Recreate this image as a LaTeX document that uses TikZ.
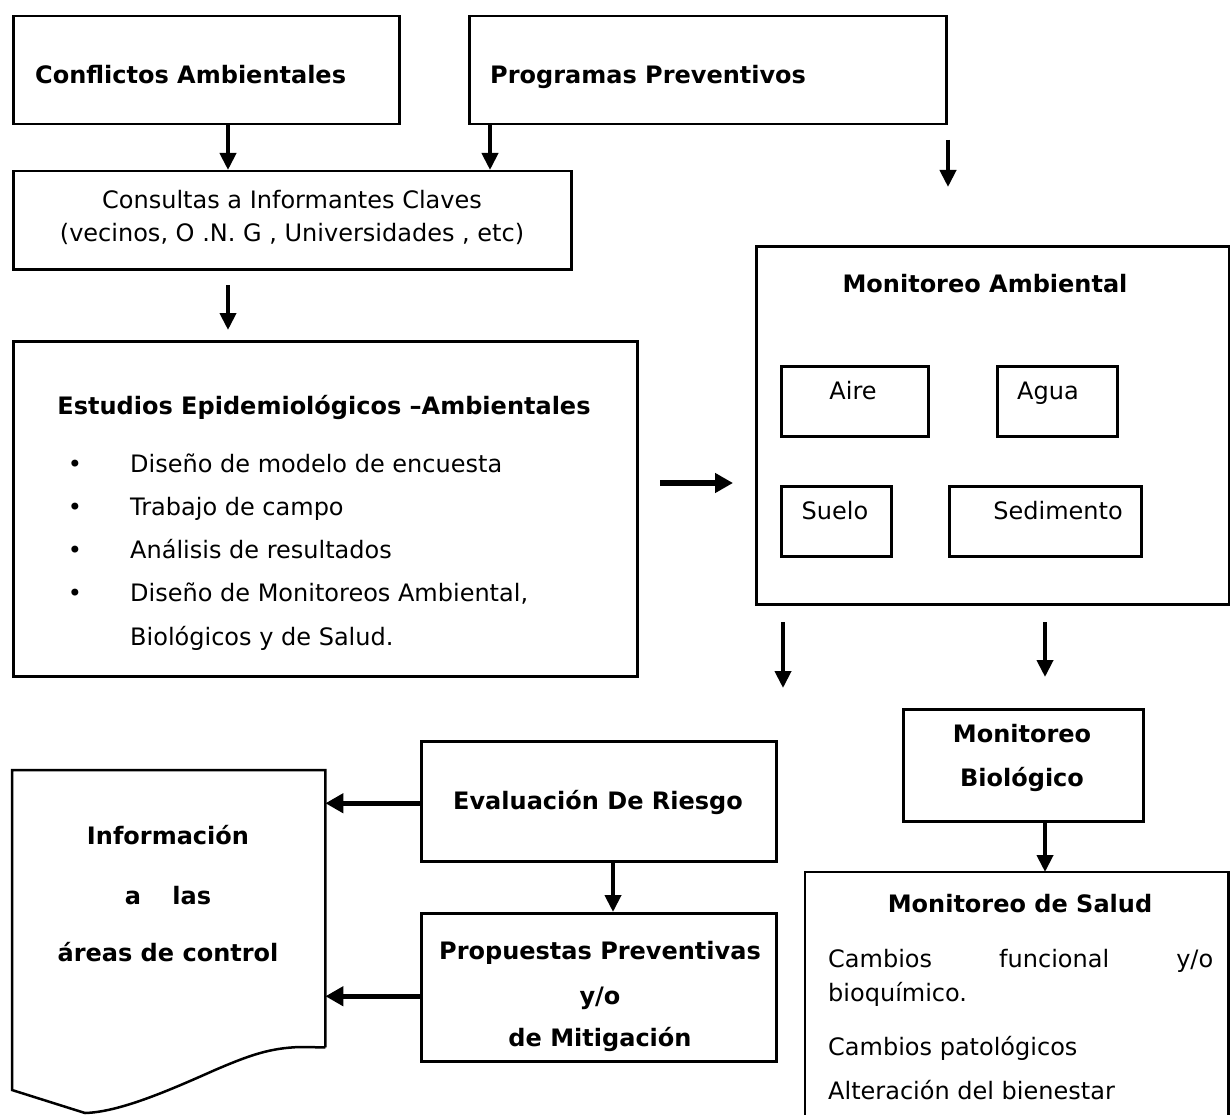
\documentclass[tikz,border=0pt]{standalone}
\usepackage{fontspec}
\setmainfont{DejaVu Sans}
\usetikzlibrary{arrows.meta}
\begin{document}
\begin{tikzpicture}[x=1pt,y=-1pt,
  font=\fontsize{24}{28}\selectfont,
  box/.style={draw, line width=2.5pt, inner sep=0pt, anchor=north west},
  frame/.style={inner sep=0pt, anchor=north west},
  outline/.style={line width=2.5pt},
  arr/.style={line width=4pt, -{Triangle[length=17pt,width=16pt]}},
  harr/.style={line width=5.5pt, -{Triangle[length=18pt,width=19pt]}},
  txt/.style={inner sep=0pt, anchor=base},
  txtl/.style={inner sep=0pt, anchor=base west}]
\useasboundingbox (0,0) rectangle (1230,1115);
\clip (0,0) rectangle (1230,1115);
% top boxes
\node[box, minimum width=386pt, minimum height=108pt] (conf) at (12,15) {};
\node[txtl] (conft) at (35,84) {\bfseries Conflictos Ambientales};
\node[box, minimum width=477pt, minimum height=108pt] (prog) at (468,15) {};
\node[txtl] (progt) at (490,84) {\bfseries Programas Preventivos};
% consultas
\node[box, minimum width=558pt, minimum height=98pt] (cons) at (12,170) {};
\node[txt] (cons1) at (292,209) {Consultas a Informantes Claves};
\node[txt] (cons2) at (292,241) {(vecinos, O .N. G , Universidades , etc)};
% estudios
\node[box, minimum width=624pt, minimum height=335pt] (est) at (12,340) {};
\node[txt] (estt) at (324,414) {\bfseries Estudios Epidemiológicos –Ambientales};
\node[txt] (bu1) at (75,472) {•};
\node[txt] (bu2) at (75,515) {•};
\node[txt] (bu3) at (75,558) {•};
\node[txt] (bu4) at (75,601) {•};
\node[txtl] (li1) at (130,472) {Diseño de modelo de encuesta};
\node[txtl] (li2) at (130,515) {Trabajo de campo};
\node[txtl] (li3) at (130,558) {Análisis de resultados};
\node[txtl] (li4) at (130,601) {Diseño de Monitoreos Ambiental,};
\node[txtl] (li5) at (130,645) {Biológicos y de Salud.};
% monitoreo ambiental
\node[box, minimum width=473pt, minimum height=358pt] (amb) at (755,245) {};
\node[txt] (ambt) at (985,292) {\bfseries Monitoreo Ambiental};
\node[box, minimum width=147pt, minimum height=70pt] (aire) at (780,365) {};
\node[txt] (airet) at (853,399) {Aire};
\node[box, minimum width=120pt, minimum height=70pt] (agua) at (996,365) {};
\node[txt] (aguat) at (1048,399) {Agua};
\node[box, minimum width=110pt, minimum height=70pt] (suelo) at (780,485) {};
\node[txt] (suelot) at (835,519) {Suelo};
\node[box, minimum width=192pt, minimum height=70pt] (sedi) at (948,485) {};
\node[txt] (sedit) at (1058,519) {Sedimento};
% monitoreo biologico
\node[box, minimum width=240pt, minimum height=112pt] (monbio) at (902,708) {};
\node[txt] (mb1) at (1022,742) {\bfseries Monitoreo};
\node[txt] (mb2) at (1022,786) {\bfseries Biológico};
% monitoreo de salud
\node[frame, minimum width=423pt, minimum height=260pt] (salud) at (805,872) {};
\draw[outline] (salud.south west) -- (salud.north west) -- (salud.north east) -- (salud.south east);
\node[txt] (salt) at (1020,912) {\bfseries Monitoreo de Salud};
\node[txtl] (sa1) at (828,967) {\hbox to 385pt{Cambios\hfill funcional\hfill y/o}};
\node[txtl] (sa2) at (828,1001) {bioquímico.};
\node[txtl] (sa3) at (828,1055) {Cambios patológicos};
\node[txtl] (sa4) at (828,1099) {Alteración del bienestar};
% evaluacion / propuestas
\node[box, minimum width=355pt, minimum height=120pt] (eval) at (420,740) {};
\node[txt] (evalt) at (598,809) {\bfseries Evaluación De Riesgo};
\node[box, minimum width=355pt, minimum height=148pt] (prop) at (420,912) {};
\node[txt] (pr1) at (600,959) {\bfseries Propuestas Preventivas};
\node[txt] (pr2) at (600,1004) {\bfseries y/o};
\node[txt] (pr3) at (600,1046) {\bfseries de Mitigación};
% informacion (document shape)
\node[frame, minimum width=313pt, minimum height=277pt] (info) at (12,770) {};
\draw[outline] (info.south east) -- (info.north east) -- (info.north west) -- (12,1090)
  -- (85,1113) .. controls (120,1112) and (170,1090) .. (215,1070)
  .. controls (250,1055) and (270,1048) .. (300,1047) -- (info.south east);
\node[txt] (in1) at (168,844) {\bfseries Información};
\node[txt] (in2) at (168,904) {\bfseries a\hspace{1.3em}las};
\node[txt] (in3) at (168,961) {\bfseries áreas de control};
% connectors
\coordinate (c1) at ([xshift=216pt]conf.south west);
\draw[arr] (c1) -- (c1 |- cons.north);
\coordinate (c2) at ([xshift=22pt]prog.south west);
\draw[arr] (c2) -- (c2 |- cons.north);
\coordinate (f1a) at (948,140); \coordinate (f1b) at (948,187);
\draw[arr] (f1a) -- (f1b);
\coordinate (f2a) at (228,285); \coordinate (f2b) at (228,330);
\draw[arr] (f2a) -- (f2b);
\coordinate (f3a) at (660,483); \coordinate (f3b) at (733,483);
\draw[harr] (f3a) -- (f3b);
\coordinate (f4a) at (783,622); \coordinate (f4b) at (783,688);
\draw[arr] (f4a) -- (f4b);
\coordinate (f5a) at (1045,622); \coordinate (f5b) at (1045,677);
\draw[arr] (f5a) -- (f5b);
\coordinate (c5) at ([xshift=143pt]monbio.south west);
\draw[arr] (c5) -- (c5 |- salud.north);
\coordinate (c3) at ([yshift=-2pt]eval.west);
\draw[harr] (c3) -- (c3 -| info.east);
\coordinate (c4) at ([xshift=193pt]eval.south west);
\draw[arr] (c4) -- (c4 |- prop.north);
\coordinate (c6) at ([yshift=-9pt]prop.west);
\draw[harr] (c6) -- (c6 -| info.east);
\end{tikzpicture}
\end{document}
